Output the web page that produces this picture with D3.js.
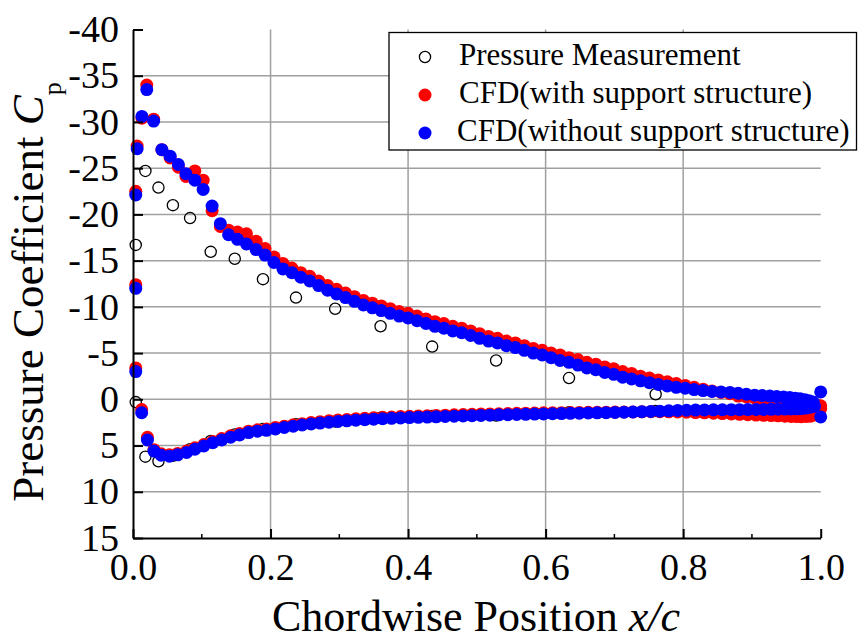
<!DOCTYPE html>
<html><head><meta charset="utf-8">
<script src="https://cdn.jsdelivr.net/npm/d3@7"></script>
<style>html,body{margin:0;padding:0;background:#fff;} svg{display:block;font-family:"Liberation Serif","Times New Roman",serif;}</style>
</head><body><svg id="chart" width="858" height="641"></svg>
<script>
// ---- tick labels ----
const xTicks = [0.0, 0.2, 0.4, 0.6, 0.8, 1.0];
const xMinorTicks = [0.1, 0.3, 0.5, 0.7, 0.9];
const yTicks = [-40, -35, -30, -25, -20, -15, -10, -5, 0, 5, 10, 15];
const legendLabels = ["Pressure Measurement", "CFD(with support structure)", "CFD(without support structure)"];

// ---- Pressure measurement (open circles) ----
const measX     = [0.004, 0.018, 0.037, 0.058, 0.083, 0.113, 0.148, 0.189, 0.237, 0.294, 0.360, 0.435, 0.528, 0.634, 0.760];
const measUpper = [-16.7, -24.7, -22.9, -21.0, -19.6, -15.95, -15.2, -13.0, -11.0, -9.8, -7.9, -5.7, -4.2, -2.3, -0.55];
const measLower = [0.3, 6.2, 6.7, 6.1, 5.4, 4.5, 3.8, 3.2, 2.7, 2.4, 2.0, 1.8, 1.75, 1.4, 1.25];

// ---- CFD upper surface ----
const cfdUpperX = [0.004,0.004,0.004,0.006,0.013,0.020,0.030,0.042,0.054,0.066,0.077,0.090,0.102,0.115,0.127,0.139,0.152,0.165,0.179,0.192,
  0.205,0.218,0.231,0.244,0.257,0.270,0.283,0.296,0.309,0.322,0.335,0.348,0.361,0.374,0.387,0.400,0.413,0.426,0.439,0.452,
  0.465,0.478,0.491,0.504,0.517,0.530,0.543,0.556,0.569,0.582,0.595,0.608,0.621,0.634,0.647,0.660,0.673,0.686,0.699,0.712,
  0.725,0.738,0.751,0.764,0.777,0.790,0.803,0.816,0.829,0.842,0.855,0.868,0.880,0.892,0.904,0.915,0.926,0.936,0.946,0.955,
  0.963,0.970,0.977,0.983,0.989,1.000];
const withUpper = [-3.4,-12.4,-22.5,-27.4,-30.4,-34.0,-30.3,-27.0,-26.1,-25.1,-24.1,-24.7,-23.7,-20.4,-18.7,-18.3,-18.1,-17.9,-17.1,-16.3,
  -15.4,-14.7,-14.2,-13.7,-13.3,-12.8,-12.3,-11.9,-11.5,-11.1,-10.7,-10.4,-10.1,-9.8,-9.5,-9.3,-9.0,-8.7,-8.4,-8.2,
  -7.9,-7.7,-7.4,-7.1,-6.8,-6.6,-6.3,-6.1,-5.8,-5.5,-5.3,-5.0,-4.8,-4.5,-4.3,-4.0,-3.8,-3.5,-3.3,-3.0,
  -2.8,-2.5,-2.3,-2.1,-1.9,-1.7,-1.5,-1.3,-1.1,-0.9,-0.75,-0.6,-0.35,-0.25,-0.15,-0.05,0.05,0.12,0.2,0.25,
  0.3,0.35,0.4,0.45,0.5,0.7];
const withoutUpper = [-3.0,-12.0,-22.1,-27.1,-30.6,-33.5,-30.1,-27.0,-26.3,-25.4,-24.4,-23.7,-22.7,-20.9,-19.0,-17.8,-17.3,-16.8,-16.2,-15.6,
  -14.8,-14.1,-13.7,-13.2,-12.8,-12.3,-11.8,-11.4,-11.0,-10.6,-10.2,-9.9,-9.6,-9.3,-9.0,-8.8,-8.5,-8.2,-7.9,-7.7,
  -7.4,-7.2,-6.9,-6.6,-6.3,-6.1,-5.8,-5.6,-5.3,-5.0,-4.8,-4.5,-4.2,-4.0,-3.7,-3.4,-3.2,-2.9,-2.7,-2.4,
  -2.2,-2.0,-1.8,-1.6,-1.45,-1.3,-1.2,-1.05,-0.95,-0.85,-0.8,-0.75,-0.65,-0.55,-0.45,-0.4,-0.35,-0.3,-0.25,-0.2,
  -0.12,-0.05,0.05,0.15,0.3,-0.8];

// ---- CFD lower surface ----
const cfdLowerX = [0.0126,0.021,0.0305,0.041,0.053,0.065,0.078,0.090,0.103,0.116,0.129,0.142,0.155,0.168,0.181,0.194,0.207,0.220,0.233,0.246,
  0.259,0.272,0.285,0.298,0.311,0.324,0.337,0.350,0.363,0.376,0.389,0.402,0.415,0.428,0.441,0.454,0.467,0.480,0.493,0.506,
  0.519,0.532,0.545,0.558,0.571,0.584,0.597,0.610,0.623,0.636,0.649,0.662,0.675,0.688,0.701,0.714,0.727,0.740,0.753,0.766,
  0.779,0.792,0.805,0.818,0.831,0.844,0.857,0.870,0.882,0.894,0.906,0.917,0.928,0.938,0.948,0.957,0.965,0.972,0.979,0.985,
  0.991,1.000];
const withLower = [1.1,4.1,5.45,5.9,6.0,5.85,5.6,5.25,4.9,4.55,4.25,3.95,3.7,3.45,3.3,3.2,3.05,2.9,2.75,2.63,
  2.52,2.42,2.33,2.25,2.18,2.11,2.05,2.0,1.95,1.91,1.87,1.83,1.8,1.77,1.74,1.71,1.68,1.65,1.62,1.6,
  1.58,1.56,1.54,1.52,1.5,1.48,1.46,1.45,1.44,1.43,1.42,1.41,1.4,1.39,1.38,1.37,1.36,1.35,1.34,1.34,
  1.35,1.37,1.4,1.43,1.46,1.5,1.54,1.58,1.62,1.66,1.7,1.73,1.76,1.79,1.82,1.85,1.87,1.88,1.86,1.82,
  1.7,1.0];
const withoutLower = [1.45,4.4,5.6,6.05,6.15,6.0,5.75,5.4,5.05,4.7,4.4,4.1,3.85,3.6,3.45,3.35,3.2,3.05,2.9,2.78,
  2.67,2.57,2.48,2.4,2.33,2.26,2.2,2.15,2.1,2.06,2.02,1.98,1.95,1.92,1.89,1.86,1.83,1.8,1.77,1.74,
  1.71,1.68,1.66,1.64,1.62,1.6,1.58,1.56,1.54,1.52,1.5,1.48,1.46,1.44,1.42,1.4,1.37,1.34,1.31,1.28,
  1.24,1.2,1.18,1.16,1.15,1.14,1.13,1.12,1.12,1.11,1.1,1.1,1.08,1.07,1.06,1.05,1.03,1.0,0.95,0.85,
  0.75,1.9];

const RED = "#ff0000", BLUE = "#0000ff";
const FONT = '"Liberation Serif","Times New Roman",serif';

const svg = d3.select("#chart");
const x = d3.scaleLinear().domain([0, 1]).range([133, 820.7]);
const y = d3.scaleLinear().domain([-40, 15]).range([29.5, 538]);

// grid
const grid = svg.append("g").attr("stroke", "#a0a0a0").attr("stroke-width", 1.5);
grid.selectAll("line.h").data(yTicks.filter(v => v > -40 && v < 15)).join("line")
  .attr("class","h").attr("x1", x(0)).attr("x2", x(1)).attr("y1", d => y(d)).attr("y2", d => y(d));
grid.selectAll("line.v").data(xTicks.filter(v => v > 0 && v < 1)).join("line")
  .attr("class","v").attr("y1", y(-40)).attr("y2", y(15)).attr("x1", d => x(d)).attr("x2", d => x(d));

// data
function pts(xs, ys) { return xs.map((v, i) => [v, ys[i]]); }
const dots = svg.append("g");
dots.selectAll("circle.m").data(pts(measX, measUpper).concat(pts(measX, measLower))).join("circle")
  .attr("class","m").attr("cx", d => x(d[0])).attr("cy", d => y(d[1])).attr("r", 5.6)
  .attr("fill", "none").attr("stroke", "#000").attr("stroke-width", 1.3);
dots.selectAll("circle.r").data(pts(cfdUpperX, withUpper).concat(pts(cfdLowerX, withLower))).join("circle")
  .attr("class","r").attr("cx", d => x(d[0])).attr("cy", d => y(d[1])).attr("r", 6.5).attr("fill", RED);
dots.selectAll("circle.b").data(pts(cfdUpperX, withoutUpper).concat(pts(cfdLowerX, withoutLower))).join("circle")
  .attr("class","b").attr("cx", d => x(d[0])).attr("cy", d => y(d[1])).attr("r", 6.5).attr("fill", BLUE);

// axes
const xAxis = d3.axisBottom(x).tickValues(xTicks).tickFormat(d3.format(".1f")).tickSizeInner(-9).tickSizeOuter(0).tickPadding(15);
const gx = svg.append("g").attr("transform", `translate(0,${y(15)})`).call(xAxis);
gx.selectAll("text").attr("font-size", 38).attr("fill", "#000").attr("font-family", FONT);
gx.selectAll("line").attr("stroke", "#000").attr("stroke-width", 2);
gx.select(".domain").attr("stroke", "#000").attr("stroke-width", 2);
gx.selectAll("line.minor").data(xMinorTicks).join("line").attr("class","minor")
  .attr("x1", d => x(d)).attr("x2", d => x(d)).attr("y1", 0).attr("y2", -4).attr("stroke", "#000").attr("stroke-width", 1.5);

const yAxis = d3.axisLeft(y).tickValues(yTicks).tickFormat(d => String(d)).tickSizeInner(-10).tickSizeOuter(0).tickPadding(14);
const gy = svg.append("g").attr("transform", `translate(${x(0)},0)`).call(yAxis);
gy.selectAll("text").attr("font-size", 38).attr("fill", "#000").attr("font-family", FONT);
gy.selectAll("line").attr("stroke", "#000").attr("stroke-width", 2);
gy.select(".domain").attr("stroke", "#000").attr("stroke-width", 2);

// axis titles
const xt = svg.append("text").attr("x", 476).attr("y", 631).attr("text-anchor", "middle").attr("font-size", 44).attr("fill", "#000");
xt.append("tspan").text("Chordwise Position ");
xt.append("tspan").attr("font-style", "italic").text("x/c");

const yt = svg.append("text").attr("transform", "translate(43,292) rotate(-90)").attr("text-anchor", "middle").attr("font-size", 45).attr("fill", "#000");
yt.append("tspan").text("Pressure Coefficient ");
yt.append("tspan").attr("font-style", "italic").text("C");
yt.append("tspan").attr("font-size", 26).attr("dy", 18).text("p");

// legend
const lg = svg.append("g");
lg.append("rect").attr("x", 389).attr("y", 32.5).attr("width", 467.5).attr("height", 117.5)
  .attr("fill", "#fff").attr("stroke", "#000").attr("stroke-width", 1.3);
const legY = [57, 95, 133];
lg.append("circle").attr("cx", 425).attr("cy", legY[0]).attr("r", 5.6).attr("fill", "none").attr("stroke", "#000").attr("stroke-width", 1.3);
lg.append("circle").attr("cx", 425).attr("cy", legY[1]).attr("r", 6.5).attr("fill", RED);
lg.append("circle").attr("cx", 425).attr("cy", legY[2]).attr("r", 6.5).attr("fill", BLUE);
lg.selectAll("text").data(legendLabels).join("text")
  .attr("x", (d, i) => i === 2 ? 457 : 459).attr("y", (d, i) => legY[i] + 8)
  .attr("font-size", 31).attr("fill", "#000").text(d => d);
</script></body></html>
